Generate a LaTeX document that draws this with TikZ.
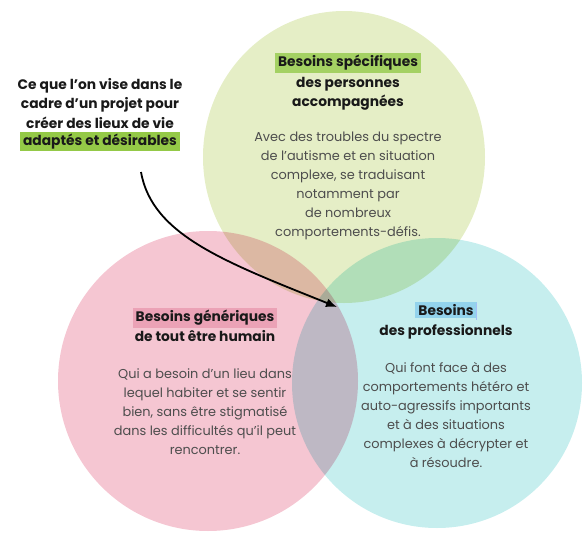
\documentclass[tikz,border=0pt]{standalone}
\usepackage{fontspec}
\setmainfont{Poppins}
\usepackage{tikz}
\usetikzlibrary{arrows.meta,calc,positioning}
\tikzset{>=Latex}

\definecolor{circgreen}{HTML}{E5EEC6}
\definecolor{circpink}{HTML}{F5C6D2}
\definecolor{circblue}{HTML}{C6EEEE}
\definecolor{hlgreen}{HTML}{94C947}
\definecolor{hlpink}{HTML}{EBA2B6}
\definecolor{hlblue}{HTML}{93D3EC}
\definecolor{bodygrey}{HTML}{4D4D4D}

\tikzset{
  headtxt/.style={align=center, inner sep=1pt, text=black!90,
    font=\fontsize{13.8}{19.5}\selectfont\bfseries},
  bodytxt/.style={align=center, inner sep=0pt, text=bodygrey,
    font=\fontsize{12.9}{19}\selectfont},
  hlbox/.style={inner xsep=3pt, inner ysep=2pt},
}

\begin{document}
\begin{tikzpicture}[x=1pt,y=-1pt]
  \useasboundingbox (0,0) rectangle (584,533);

  % the three circles
  \begin{scope}[blend mode=multiply]
    \fill[circgreen] (344,157) ellipse [x radius=141, y radius=146];
    \fill[circpink] (208,381) circle (150);
    \fill[circblue] (437,383) circle (145);
  \end{scope}

  % intro text
  \node[headtxt, anchor=north] (intro) at (100,77) {Ce que l'on vise dans le\\cadre d'un projet pour\\créer des lieux de vie};
  \node[headtxt, hlbox, fill=hlgreen, below=2pt of intro] (introhl) {adaptés et désirables};

  % specific needs
  \node[headtxt, hlbox, fill=hlgreen!85] (spechl) at (348,63) {Besoins spécifiques};
  \node[headtxt, below=3pt of spechl] (spechead) {des personnes\\accompagnées};
  \node[bodytxt, below=20pt of spechead] (specbody) {Avec des troubles du spectre\\de l'autisme et en situation\\complexe, se traduisant\\notamment par\\de nombreux\\comportements-défis.};

  % generic needs
  \node[headtxt, hlbox, fill=hlpink] (genhl) at (205,318) {Besoins génériques};
  \node[headtxt, below=1pt of genhl] (genhead) {de tout être humain};
  \node[bodytxt, below=26pt of genhead] (genbody) {Qui a besoin d'un lieu dans\\lequel habiter et se sentir\\bien, sans être stigmatisé\\dans les difficultés qu'il peut\\rencontrer.};

  % professionals
  \node[headtxt, hlbox, fill=hlblue] (prohl) at (446,310) {Besoins};
  \draw[hlblue!70!blue!60, line width=1.2pt] ($(prohl.north east)+(0,1)$) -- ($(prohl.south east)+(0,2)$);
  \node[headtxt, below=5pt of prohl] (prohead) {des professionnels};
  \node[bodytxt, below=22pt of prohead] (probody) {Qui font face à des\\comportements hétéro et\\auto-agressifs importants\\et à des situations\\complexes à décrypter et\\à résoudre.};

  % arrow
  \coordinate (arrstart) at (141,172);
  \coordinate (arrend) at (337,307);
  \draw[-{Latex[length=11pt,width=9pt]}, line width=1.8pt] (arrstart) .. controls (152,235) and (225,262) .. (arrend);
\end{tikzpicture}
\end{document}
